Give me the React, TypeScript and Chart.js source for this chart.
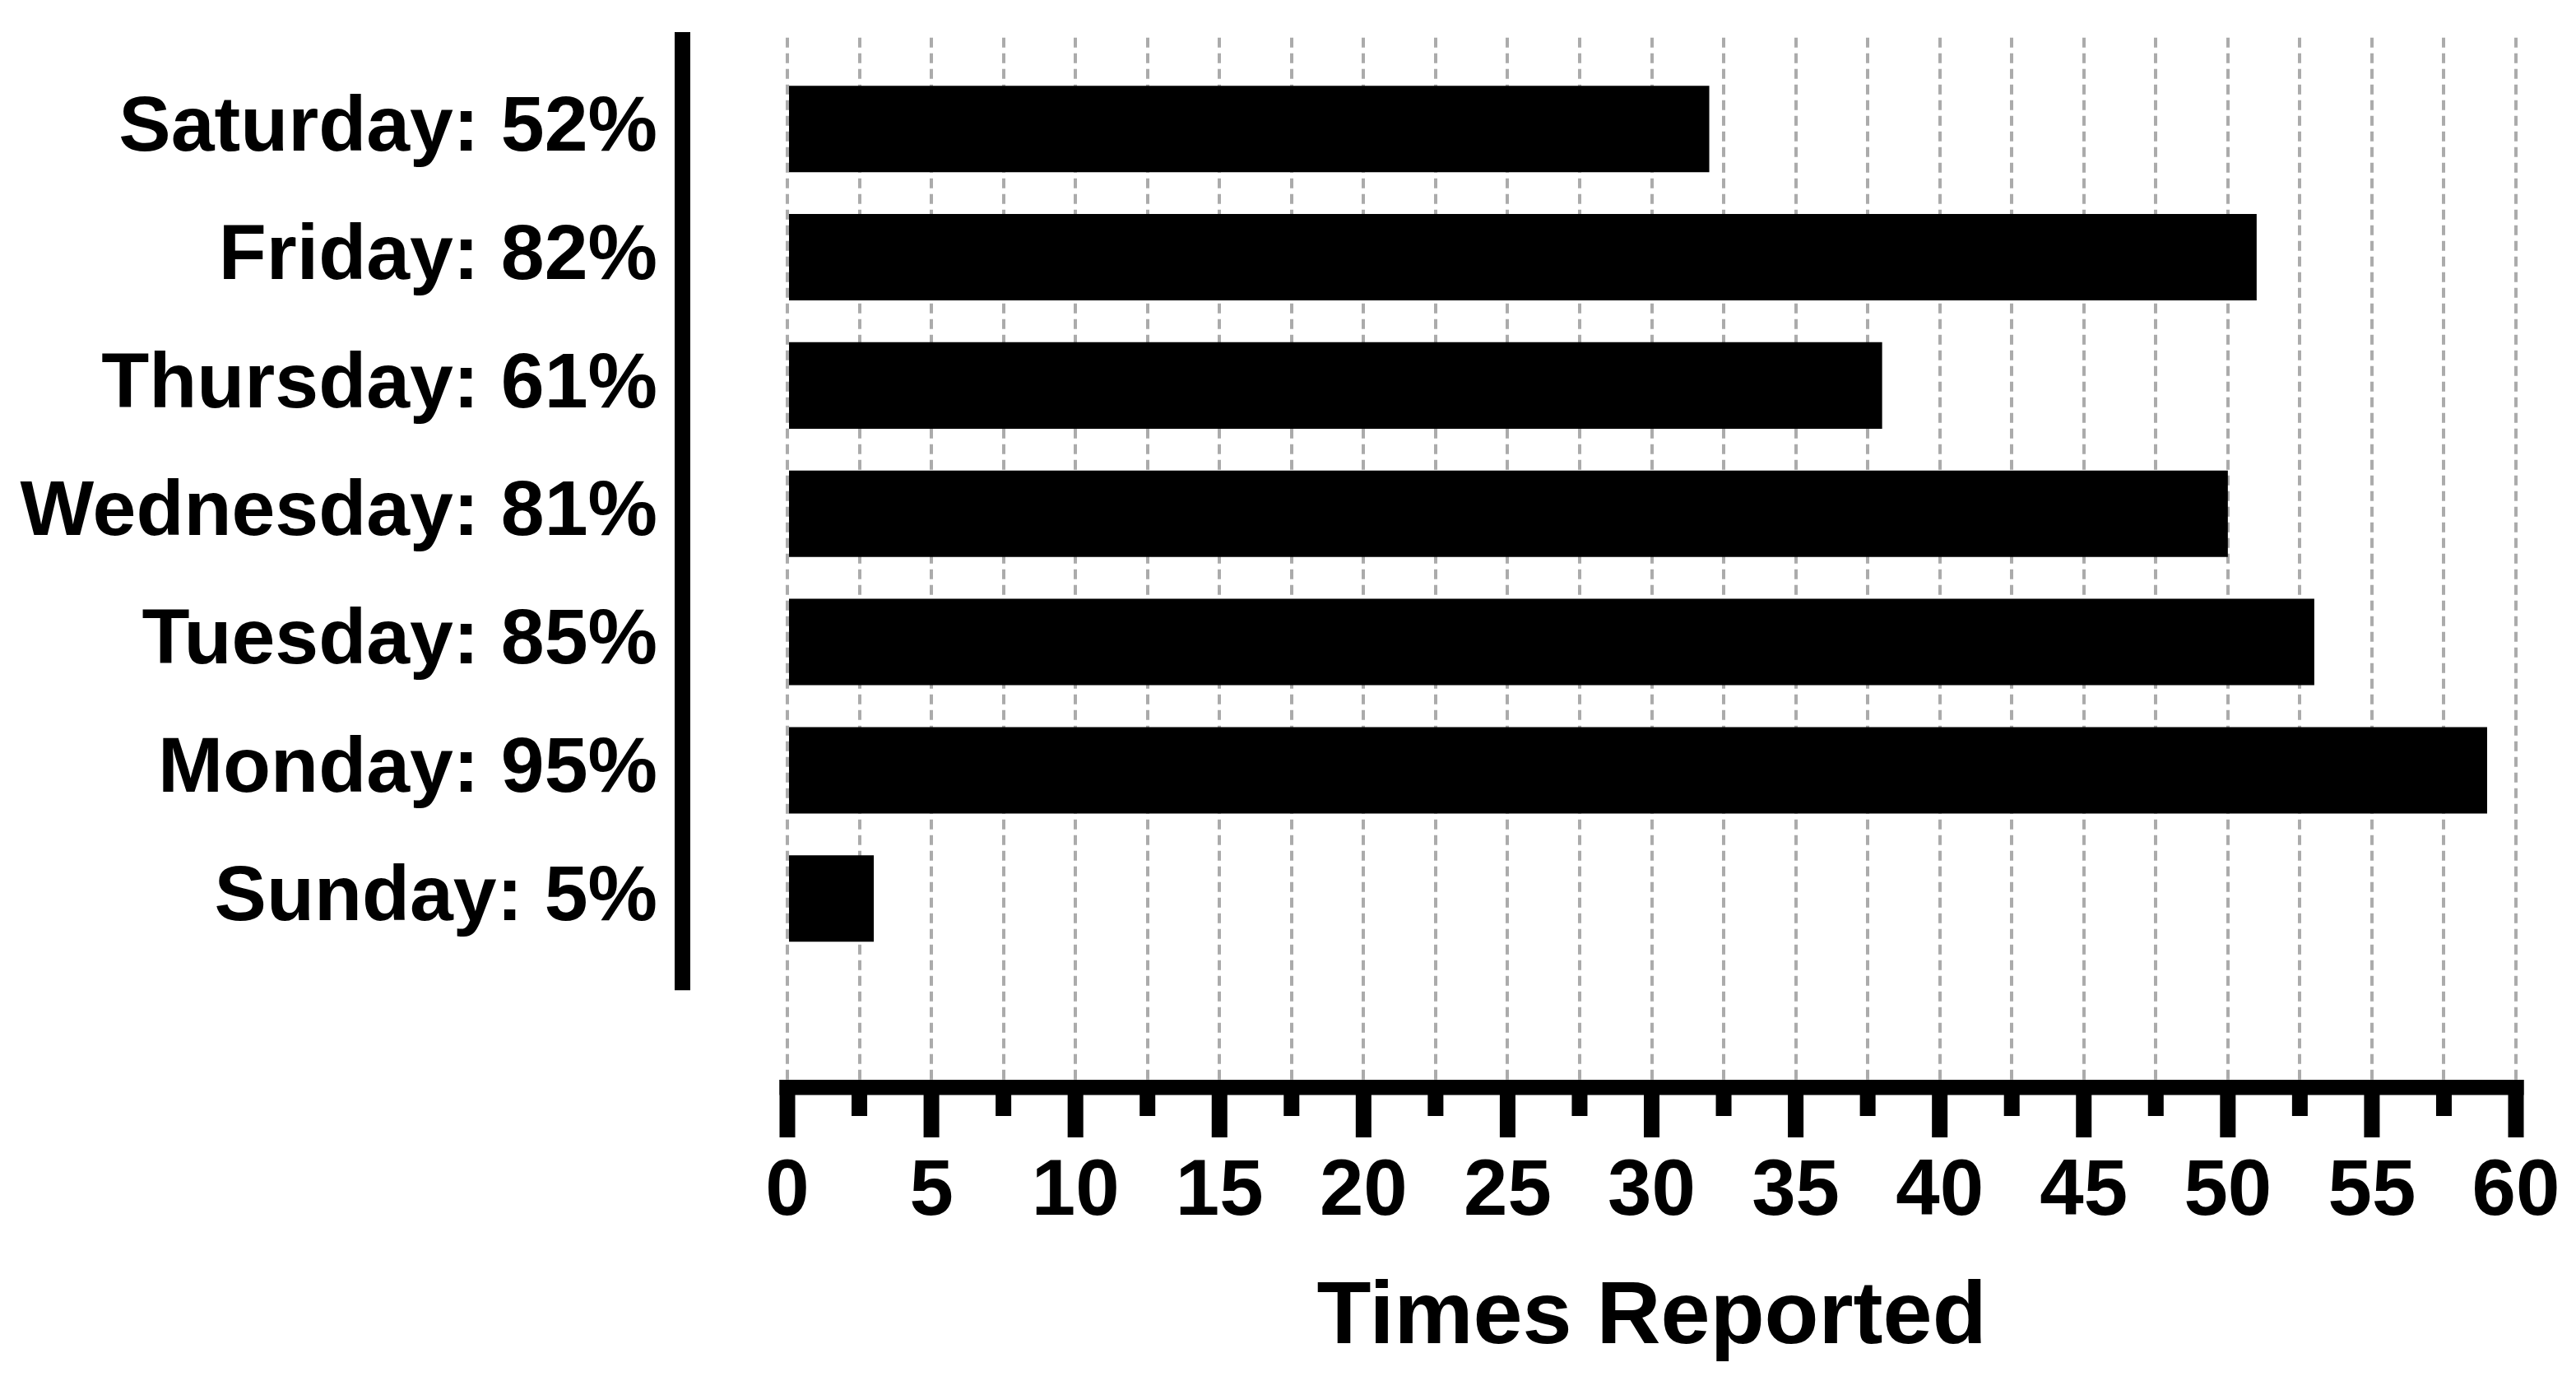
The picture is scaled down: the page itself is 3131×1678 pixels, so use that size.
import React, { useEffect, useRef } from 'react';
import { Chart, registerables } from 'chart.js';

Chart.register(...registerables);

// ---- data (top to bottom as in the reference) ----
const categories = [
  'Saturday: 52%',
  'Friday: 82%',
  'Thursday: 61%',
  'Wednesday: 81%',
  'Tuesday: 85%',
  'Monday: 95%',
  'Sunday: 5%',
];
const timesReported = [32, 51, 38, 50, 53, 59, 3];

const xMin = 0;
const xMax = 60;
const xTickStep = 2.5;
const xLabelStep = 5;
const xTitle = 'Times Reported';

const FONT = '"Liberation Sans", Arial, Helvetica, sans-serif';

const isMajor = (v: number) =>
  Math.abs(v / xLabelStep - Math.round(v / xLabelStep)) < 1e-6;

const prismAxes = {
  id: 'prismAxes',
  afterDatasetsDraw(chart: any) {
    const { ctx, chartArea, scales } = chart;
    const x = scales.x;
    const y = scales.y;
    const lw = 19;
    ctx.save();
    ctx.fillStyle = '#000';
    // offset vertical axis line
    const yTop = chartArea.top;
    const yBot = y.getPixelForValue(categories.length - 1 + 0.715);
    const yx = chartArea.left - 137;
    ctx.fillRect(yx, yTop, lw, yBot - yTop);
    // horizontal axis line with major / minor ticks
    const x0 = x.getPixelForValue(xMin);
    const x1 = x.getPixelForValue(xMax);
    const ay = chartArea.bottom;
    ctx.fillRect(x0 - lw / 2, ay, x1 - x0 + lw, 18.5);
    for (const t of x.ticks) {
      const px = x.getPixelForValue(t.value);
      ctx.fillRect(px - lw / 2, ay, lw, isMajor(t.value) ? 70 : 44);
    }
    ctx.restore();
  },
};

export default function App() {
  const ref = useRef<HTMLCanvasElement | null>(null);

  useEffect(() => {
    if (!ref.current) return;
    const chart = new Chart(ref.current, {
      type: 'bar',
      data: {
        datasets: [
          {
            label: xTitle,
            data: timesReported.map((v, i) => ({ x: v, y: i })),
            backgroundColor: '#000000',
            borderWidth: 0,
            categoryPercentage: 1,
            barPercentage: 0.674,
          },
        ],
      },
      options: {
        animation: false,
        responsive: false,
        devicePixelRatio: 1,
        indexAxis: 'y',
        layout: { padding: { left: 0, right: 73, top: 39, bottom: 0 } },
        plugins: {
          legend: { display: false },
          tooltip: { enabled: false },
        },
        scales: {
          x: {
            type: 'linear',
            position: 'bottom',
            offset: false,
            min: xMin,
            max: xMax,
            ticks: {
              stepSize: xTickStep,
              autoSkip: false,
              maxRotation: 0,
              minRotation: 0,
              padding: 80,
              color: '#000',
              font: { family: FONT, size: 96, weight: 'bold' },
              callback: (v: any) => (isMajor(Number(v)) ? String(v) : ''),
            },
            grid: {
              display: true,
              drawTicks: false,
              offset: false,
              color: '#ababab',
              lineWidth: 4,
              borderDash: [12, 7],
              borderDashOffset: 12.3,
            } as any,
            border: { display: false, dash: [12, 7], dashOffset: 12.3 },
            title: {
              display: true,
              text: xTitle,
              color: '#000',
              font: { family: FONT, size: 108, weight: 'bold' },
              padding: { top: 0, bottom: 11 },
            },
            afterFit: (s: any) => {
              s.height = 366;
              s.paddingLeft = 0;
              s.paddingRight = 0;
            },
          },
          y: {
            type: 'linear',
            position: 'left',
            reverse: true,
            offset: false,
            min: -0.755,
            max: 7.413,
            afterBuildTicks: (s: any) => {
              s.ticks = categories.map((_, i) => ({ value: i }));
            },
            ticks: {
              autoSkip: false,
              padding: 158,
              color: '#000',
              font: { family: FONT, size: 95, weight: 'bold' },
              callback: (v: any) => categories[Number(v)] ?? '',
            },
            grid: { display: false, drawTicks: false, offset: false },
            border: { display: false },
            afterFit: (s: any) => {
              s.width = 957;
              s.paddingTop = 0;
              s.paddingBottom = 0;
            },
          },
        },
      } as any,
      plugins: [prismAxes],
    });
    return () => chart.destroy();
  }, []);

  return (
    <div style={{ position: 'fixed', left: 0, top: 0, width: 3131, height: 1678, background: '#fff' }}>
      <canvas ref={ref} width={3131} height={1678} style={{ display: 'block' }} />
    </div>
  );
}
